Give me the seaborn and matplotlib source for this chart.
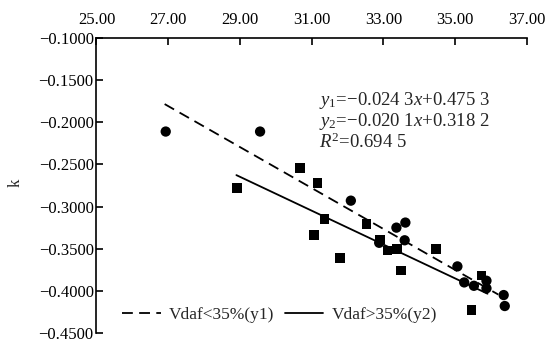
import matplotlib
matplotlib.use("Agg")
import matplotlib.pyplot as plt
from matplotlib.ticker import FuncFormatter
import numpy as np
import pandas as pd
import seaborn as sns

# points
circle_x = [26.93, 29.56, 32.09, 32.88, 33.36, 33.61, 33.59, 35.06, 35.25, 35.52, 35.87, 35.87, 36.35, 36.38]
circle_y = [-0.211, -0.211, -0.293, -0.343, -0.325, -0.319, -0.340, -0.371, -0.390, -0.394, -0.388, -0.397, -0.405, -0.418]
square_x = [28.92, 30.67, 31.16, 31.36, 31.06, 31.78, 32.53, 32.90, 33.11, 33.38, 33.48, 34.46, 35.73, 35.45]
square_y = [-0.278, -0.254, -0.272, -0.315, -0.334, -0.361, -0.321, -0.339, -0.352, -0.350, -0.376, -0.350, -0.382, -0.423]

# fitted lines (end points)
fit1_x = [26.9, 36.2]
fit1_y = [-0.1784, -0.4044]
fit2_x = [28.9, 35.9]
fit2_y = [-0.2627, -0.4034]

legend_labels = ["Vdaf<35%(y1)", "Vdaf>35%(y2)"]
equations = [r"$y_1$=−0.024 3$x$+0.475 3", r"$y_2$=−0.020 1$x$+0.318 2", r"$R^2$=0.694 5"]
x_ticks = [25, 27, 29, 31, 33, 35, 37]
y_ticks = [-0.45, -0.40, -0.35, -0.30, -0.25, -0.20, -0.15, -0.10]

sns.set_style("ticks")
plt.rcParams["font.family"] = ["Liberation Serif", "DejaVu Serif"]
plt.rcParams["mathtext.fontset"] = "custom"
plt.rcParams["mathtext.rm"] = "Liberation Serif"
plt.rcParams["mathtext.it"] = "Liberation Serif:italic"

df = pd.DataFrame({
    "x": circle_x + square_x,
    "k": circle_y + square_y,
    "group": ["c"] * len(circle_x) + ["s"] * len(square_x),
})

fig = plt.figure(figsize=(5.46, 3.46), dpi=100)
ax = fig.add_axes([0.1767, 0.0376, 0.7885, 0.8526])

sns.scatterplot(data=df[df.group == "c"], x="x", y="k", marker="o", s=55,
                color="black", edgecolor="none", legend=False, ax=ax)
sns.scatterplot(data=df[df.group == "s"], x="x", y="k", marker="s", s=48,
                color="black", edgecolor="none", legend=False, ax=ax)

ax.plot(fit1_x, fit1_y, color="black", lw=1.3, ls=(0, (6, 3.5)), label=legend_labels[0])
ax.plot(fit2_x, fit2_y, color="black", lw=1.3, ls="-", label=legend_labels[1])

ax.set_xlim(25, 37)
ax.set_ylim(-0.45, -0.10)
ax.set_xticks(x_ticks)
ax.set_yticks(y_ticks)
ax.xaxis.tick_top()
ax.xaxis.set_major_formatter(FuncFormatter(lambda v, p: f"{v:.2f}"))
ax.yaxis.set_major_formatter(FuncFormatter(lambda v, p: f"{v:.4f}".replace("-", "−")))
ax.tick_params(axis="x", direction="in", length=5, width=1.2, pad=7, labelsize=12, colors="black")
ax.tick_params(axis="y", direction="in", length=5, width=1.2, pad=2, labelsize=12, colors="black")

for side in ["right", "bottom"]:
    ax.spines[side].set_visible(False)
for side in ["top", "left"]:
    ax.spines[side].set_linewidth(1.2)
    ax.spines[side].set_color("black")

ax.set_xlabel("")
ax.set_ylabel("k", fontsize=12)
ax.yaxis.set_label_coords(-0.17, 0.51)

for i, eq in enumerate(equations):
    ax.text(0.517, 0.787 - i * 0.07, eq, transform=ax.transAxes, fontsize=13.5, va="center", ha="left")

ax.legend(loc="center left", bbox_to_anchor=(0.04, 0.061), ncol=2, frameon=False,
          fontsize=12.5, handlelength=2.2, handletextpad=0.5, columnspacing=0.6, borderpad=0)

fig.savefig("out.png", dpi=100)
